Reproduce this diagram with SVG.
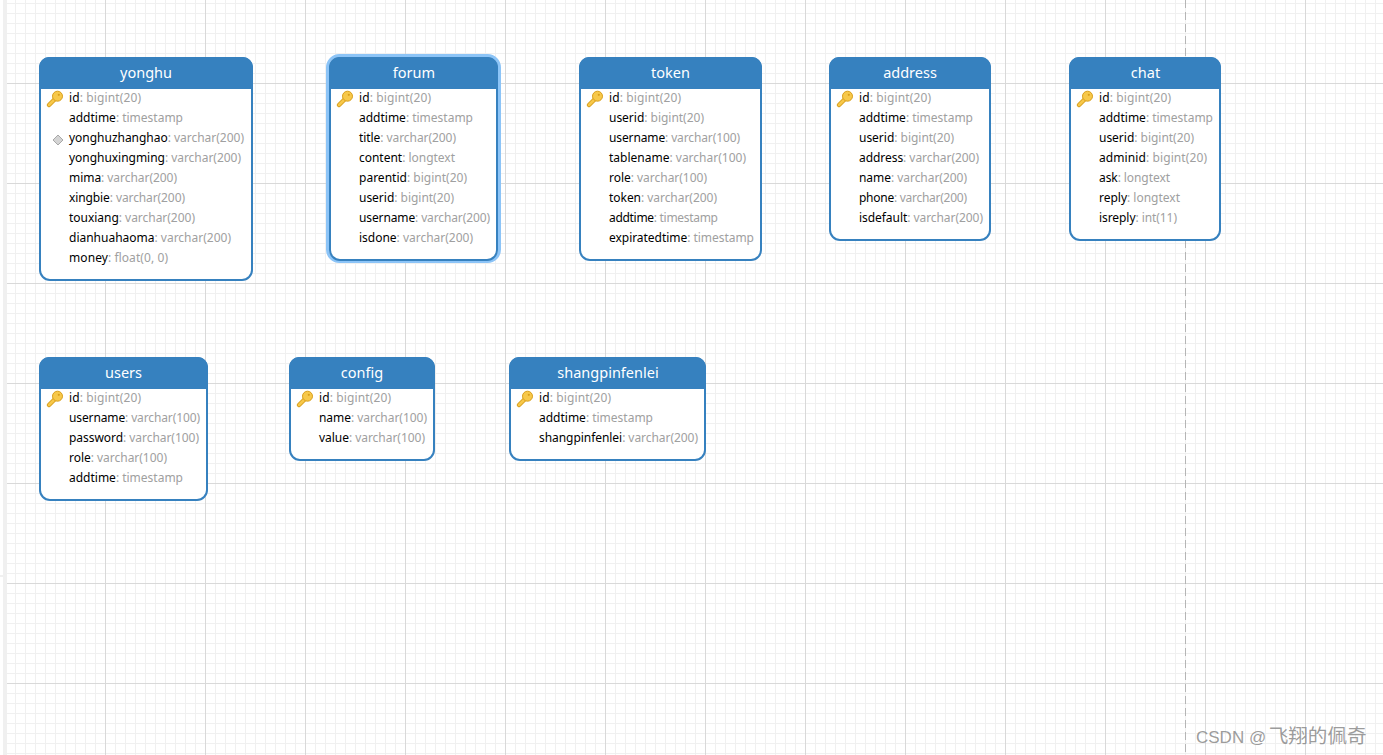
<svg xmlns="http://www.w3.org/2000/svg" width="1383" height="755" viewBox="0 0 1383 755">
<style>
.card{fill:#fff;stroke:#3681bf;stroke-width:2}
.head{fill:#3681bf}
.title{font:14.5px "Noto Sans","Open Sans",sans-serif;fill:#fff;text-anchor:middle}
.f{font:12px "Noto Sans","Open Sans",sans-serif;fill:#000}
.f tspan{fill:#a0a0a0}
.wm{font:17px "Liberation Sans",sans-serif;fill:#8a8a8a;fill-opacity:.85}
.wm tspan{font:19.6px "Noto Sans CJK SC",sans-serif}
</style>
<defs>
<pattern id="minor" width="10" height="10" patternUnits="userSpaceOnUse" x="5" y="3"><path d="M.5 0V10M0 .5H10" stroke="#f0f0f0" fill="none"/></pattern>
<pattern id="major" width="100" height="100" patternUnits="userSpaceOnUse" x="5" y="83"><path d="M.5 0V100M0 .5H100" stroke="#d9d9d9" fill="none"/></pattern>
<g id="key"><path d="M2 14 9.500 6.500" stroke="#d99f1c" stroke-width="4.500" stroke-linecap="round" fill="none"/><path d="M2 14 9.500 6.500" stroke="#f7c84a" stroke-width="2.500" stroke-linecap="round" fill="none"/><circle cx="10.500" cy="5.200" r="5" fill="#f7c84a" stroke="#d99f1c"/><circle cx="11.800" cy="3.800" r="1.100" fill="#d99f1c"/></g>
</defs>
<rect width="1383" height="755" fill="#fff"/>
<rect x="5" y="0" width="1378" height="755" fill="url(#minor)"/>
<rect x="5" y="0" width="1378" height="755" fill="url(#major)"/>
<rect x="3" y="0" width="4" height="755" fill="#f0f0f0"/>
<rect x="0" y="575" width="3" height="2" fill="#f0f0f0"/>
<path d="M1185.500 0V755" stroke="#b5b5b5" stroke-dasharray="8 4" fill="none"/>
<g id="connectors"></g>

<g id="yonghu">
<rect class="card" x="40" y="58" width="212" height="222" rx="10"/>
<path class="head" d="M49 57H243a10 10 0 0 1 10 10V89H39V67a10 10 0 0 1 10-10Z"/>
<text class="title" x="146" y="78">yonghu</text>
<use href="#key" x="47" y="91"/>
<path d="M58 135 63 140 58 145 53 140Z" fill="#d4d4d4" stroke="#a8a8a8"/>
<text class="f" x="69" y="102" textLength="72">id<tspan>: bigint(20)</tspan></text>
<text class="f" x="69" y="122" textLength="114">addtime<tspan>: timestamp</tspan></text>
<text class="f" x="69" y="142" textLength="175">yonghuzhanghao<tspan>: varchar(200)</tspan></text>
<text class="f" x="69" y="162" textLength="172">yonghuxingming<tspan>: varchar(200)</tspan></text>
<text class="f" x="69" y="182" textLength="108">mima<tspan>: varchar(200)</tspan></text>
<text class="f" x="69" y="202" textLength="116">xingbie<tspan>: varchar(200)</tspan></text>
<text class="f" x="69" y="222" textLength="126">touxiang<tspan>: varchar(200)</tspan></text>
<text class="f" x="69" y="242" textLength="162">dianhuahaoma<tspan>: varchar(200)</tspan></text>
<text class="f" x="69" y="262" textLength="99">money<tspan>: float(0, 0)</tspan></text>
</g>

<g id="forum">
<rect x="327.500" y="55.500" width="172" height="206" rx="12" fill="none" stroke="#8cc4f7" stroke-width="3"/>
<rect class="card" x="330" y="58" width="167" height="202" rx="10"/>
<path class="head" d="M339 57H488a10 10 0 0 1 10 10V89H329V67a10 10 0 0 1 10-10Z"/>
<text class="title" x="414" y="78">forum</text>
<use href="#key" x="337" y="91"/>
<text class="f" x="359" y="102" textLength="72">id<tspan>: bigint(20)</tspan></text>
<text class="f" x="359" y="122" textLength="114">addtime<tspan>: timestamp</tspan></text>
<text class="f" x="359" y="142" textLength="97">title<tspan>: varchar(200)</tspan></text>
<text class="f" x="359" y="162" textLength="96">content<tspan>: longtext</tspan></text>
<text class="f" x="359" y="182" textLength="108">parentid<tspan>: bigint(20)</tspan></text>
<text class="f" x="359" y="202" textLength="95">userid<tspan>: bigint(20)</tspan></text>
<text class="f" x="359" y="222" textLength="131">username<tspan>: varchar(200)</tspan></text>
<text class="f" x="359" y="242" textLength="114">isdone<tspan>: varchar(200)</tspan></text>
</g>

<g id="token">
<rect class="card" x="580" y="58" width="181" height="202" rx="10"/>
<path class="head" d="M589 57H752a10 10 0 0 1 10 10V89H579V67a10 10 0 0 1 10-10Z"/>
<text class="title" x="670.500" y="78">token</text>
<use href="#key" x="587" y="91"/>
<text class="f" x="609" y="102" textLength="72">id<tspan>: bigint(20)</tspan></text>
<text class="f" x="609" y="122" textLength="95">userid<tspan>: bigint(20)</tspan></text>
<text class="f" x="609" y="142" textLength="131">username<tspan>: varchar(100)</tspan></text>
<text class="f" x="609" y="162" textLength="137">tablename<tspan>: varchar(100)</tspan></text>
<text class="f" x="609" y="182" textLength="98">role<tspan>: varchar(100)</tspan></text>
<text class="f" x="609" y="202" textLength="108">token<tspan>: varchar(200)</tspan></text>
<text class="f" x="609" y="222" textLength="109">addtime<tspan>: timestamp</tspan></text>
<text class="f" x="609" y="242" textLength="145">expiratedtime<tspan>: timestamp</tspan></text>
</g>

<g id="address">
<rect class="card" x="830" y="58" width="160" height="182" rx="10"/>
<path class="head" d="M839 57H981a10 10 0 0 1 10 10V89H829V67a10 10 0 0 1 10-10Z"/>
<text class="title" x="910" y="78">address</text>
<use href="#key" x="837" y="91"/>
<text class="f" x="859" y="102" textLength="72">id<tspan>: bigint(20)</tspan></text>
<text class="f" x="859" y="122" textLength="114">addtime<tspan>: timestamp</tspan></text>
<text class="f" x="859" y="142" textLength="95">userid<tspan>: bigint(20)</tspan></text>
<text class="f" x="859" y="162" textLength="120">address<tspan>: varchar(200)</tspan></text>
<text class="f" x="859" y="182" textLength="108">name<tspan>: varchar(200)</tspan></text>
<text class="f" x="859" y="202" textLength="108">phone<tspan>: varchar(200)</tspan></text>
<text class="f" x="859" y="222" textLength="124">isdefault<tspan>: varchar(200)</tspan></text>
</g>

<g id="chat">
<rect class="card" x="1070" y="58" width="150" height="182" rx="10"/>
<path class="head" d="M1079 57H1211a10 10 0 0 1 10 10V89H1069V67a10 10 0 0 1 10-10Z"/>
<text class="title" x="1145.500" y="78">chat</text>
<use href="#key" x="1077" y="91"/>
<text class="f" x="1099" y="102" textLength="72">id<tspan>: bigint(20)</tspan></text>
<text class="f" x="1099" y="122" textLength="114">addtime<tspan>: timestamp</tspan></text>
<text class="f" x="1099" y="142" textLength="95">userid<tspan>: bigint(20)</tspan></text>
<text class="f" x="1099" y="162" textLength="108">adminid<tspan>: bigint(20)</tspan></text>
<text class="f" x="1099" y="182" textLength="71">ask<tspan>: longtext</tspan></text>
<text class="f" x="1099" y="202" textLength="81">reply<tspan>: longtext</tspan></text>
<text class="f" x="1099" y="222" textLength="78">isreply<tspan>: int(11)</tspan></text>
</g>

<g id="users">
<rect class="card" x="40" y="358" width="167" height="142" rx="10"/>
<path class="head" d="M49 357H198a10 10 0 0 1 10 10V389H39V367a10 10 0 0 1 10-10Z"/>
<text class="title" x="123.500" y="378">users</text>
<use href="#key" x="47" y="391"/>
<text class="f" x="69" y="402" textLength="72">id<tspan>: bigint(20)</tspan></text>
<text class="f" x="69" y="422" textLength="131">username<tspan>: varchar(100)</tspan></text>
<text class="f" x="69" y="442" textLength="130">password<tspan>: varchar(100)</tspan></text>
<text class="f" x="69" y="462" textLength="98">role<tspan>: varchar(100)</tspan></text>
<text class="f" x="69" y="482" textLength="114">addtime<tspan>: timestamp</tspan></text>
</g>

<g id="config">
<rect class="card" x="290" y="358" width="144" height="102" rx="10"/>
<path class="head" d="M299 357H425a10 10 0 0 1 10 10V389H289V367a10 10 0 0 1 10-10Z"/>
<text class="title" x="362" y="378">config</text>
<use href="#key" x="297" y="391"/>
<text class="f" x="319" y="402" textLength="72">id<tspan>: bigint(20)</tspan></text>
<text class="f" x="319" y="422" textLength="108">name<tspan>: varchar(100)</tspan></text>
<text class="f" x="319" y="442" textLength="106">value<tspan>: varchar(100)</tspan></text>
</g>

<g id="shangpinfenlei">
<rect class="card" x="510" y="358" width="195" height="102" rx="10"/>
<path class="head" d="M519 357H696a10 10 0 0 1 10 10V389H509V367a10 10 0 0 1 10-10Z"/>
<text class="title" x="608" y="378">shangpinfenlei</text>
<use href="#key" x="517" y="391"/>
<text class="f" x="539" y="402" textLength="72">id<tspan>: bigint(20)</tspan></text>
<text class="f" x="539" y="422" textLength="114">addtime<tspan>: timestamp</tspan></text>
<text class="f" x="539" y="442" textLength="159">shangpinfenlei<tspan>: varchar(200)</tspan></text>
</g>

<text class="wm" x="1196" y="743">CSDN @<tspan dx="2.500">飞翔的佩奇</tspan></text>
</svg>
